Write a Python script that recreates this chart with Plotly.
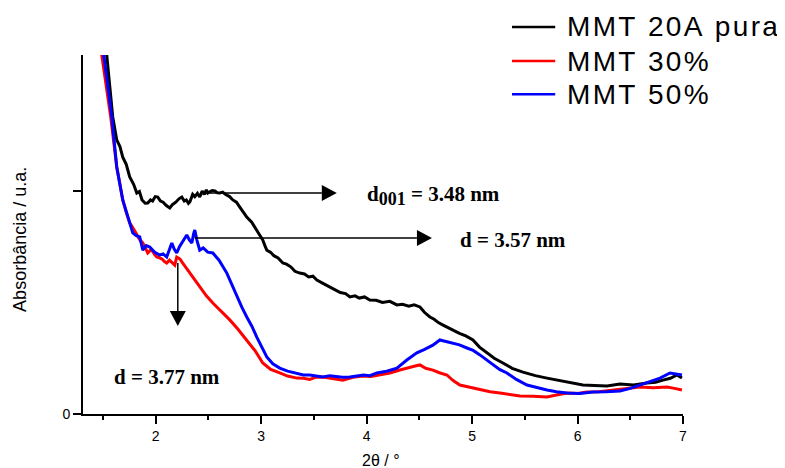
import plotly.graph_objects as go

# ---------------- data ----------------
series_names = ["MMT 20A pura", "MMT 30%", "MMT 50%"]
series_colors = ["#000000", "#ff0000", "#0000ff"]

x_pura = [1.50, 1.535, 1.592, 1.610, 1.630, 1.660, 1.687, 1.720, 1.753, 1.790, 1.820, 1.845, 1.870, 1.900,
          1.924, 1.950, 1.970, 1.995, 2.019, 2.045, 2.070, 2.100, 2.133, 2.160, 2.190, 2.220,
          2.247, 2.270, 2.290, 2.310, 2.323, 2.350, 2.370, 2.395, 2.417, 2.440, 2.460, 2.480, 2.493,
          2.512, 2.535, 2.560, 2.585, 2.607, 2.635, 2.660, 2.700, 2.731, 2.765, 2.797,
          2.830, 2.863, 2.910, 2.958, 2.990, 3.015, 3.035, 3.053, 3.090, 3.120, 3.160, 3.205, 3.240,
          3.280, 3.320, 3.366, 3.410, 3.450, 3.490, 3.528, 3.590, 3.651, 3.700, 3.750, 3.800, 3.841,
          3.890, 3.930, 3.980, 4.030, 4.090, 4.150, 4.220, 4.287, 4.340, 4.400, 4.450, 4.505, 4.550,
          4.600, 4.640, 4.680, 4.720, 4.761, 4.820, 4.880, 4.940, 5.008, 5.070, 5.140, 5.210, 5.292,
          5.380, 5.482, 5.600, 5.710, 5.820, 5.928, 6.051, 6.160, 6.279, 6.402, 6.530, 6.658, 6.740,
          6.810, 6.880, 6.943, 6.990]
y_pura = [1.75, 1.61, 1.332, 1.280, 1.229, 1.200, 1.152, 1.120, 1.063, 1.030, 0.991, 0.998, 0.960, 0.945,
          0.946, 0.960, 0.955, 0.975, 0.973, 0.955, 0.950, 0.935, 0.924, 0.940, 0.950, 0.965,
          0.973, 0.955, 0.960, 0.945, 0.951, 0.985, 0.975, 0.990, 0.973, 1.000, 0.985, 1.005, 0.991,
          0.996, 1.002, 1.000, 0.992, 0.991, 0.995, 0.985, 0.975, 0.960, 0.950, 0.928,
          0.905, 0.883, 0.860, 0.825, 0.800, 0.780, 0.755, 0.735, 0.725, 0.710, 0.700, 0.677, 0.672,
          0.660, 0.640, 0.632, 0.628, 0.615, 0.618, 0.601, 0.585, 0.570, 0.560, 0.545, 0.540, 0.525,
          0.530, 0.520, 0.525, 0.511, 0.510, 0.500, 0.505, 0.489, 0.492, 0.484, 0.490, 0.480, 0.455,
          0.435, 0.425, 0.410, 0.400, 0.390, 0.375, 0.362, 0.350, 0.332, 0.300, 0.274, 0.250, 0.229,
          0.205, 0.188, 0.172, 0.161, 0.150, 0.139, 0.130, 0.128, 0.126, 0.135, 0.130, 0.139, 0.142,
          0.152, 0.160, 0.175, 0.161]

x_30 = [1.47, 1.488, 1.573, 1.600, 1.630, 1.660, 1.687, 1.720, 1.753, 1.790, 1.820, 1.850, 1.877, 1.900,
        1.924, 1.950, 1.970, 1.990, 2.009, 2.035, 2.060, 2.080, 2.104, 2.130, 2.161, 2.180,
        2.199, 2.230, 2.256, 2.290, 2.323, 2.370, 2.417, 2.480, 2.541, 2.580, 2.620, 2.660, 2.702,
        2.780, 2.863, 2.940, 3.015, 3.090, 3.176, 3.250, 3.338, 3.400, 3.460, 3.520, 3.584,
        3.680, 3.774, 3.870, 3.964, 4.040, 4.125, 4.220, 4.315, 4.410, 4.460, 4.505, 4.560, 4.628, 4.690,
        4.761, 4.820, 4.884, 4.980, 5.074, 5.170, 5.264, 5.360, 5.454, 5.580, 5.710, 5.800, 5.899,
        6.000, 6.089, 6.200, 6.336, 6.460, 6.592, 6.720, 6.848, 6.920, 6.990]
y_30 = [1.72, 1.61, 1.332, 1.220, 1.108, 1.030, 0.960, 0.905, 0.857, 0.830, 0.803, 0.780, 0.767, 0.745,
        0.722, 0.735, 0.730, 0.715, 0.704, 0.700, 0.695, 0.685, 0.677, 0.690, 0.677, 0.668,
        0.704, 0.695, 0.677, 0.655, 0.632, 0.600, 0.570, 0.530, 0.498, 0.480, 0.460, 0.440, 0.422,
        0.380, 0.332, 0.285, 0.229, 0.200, 0.184, 0.170, 0.161, 0.160, 0.155, 0.165, 0.166,
        0.158, 0.152, 0.165, 0.170, 0.168, 0.175, 0.184, 0.197, 0.211, 0.215, 0.220, 0.205, 0.197, 0.185,
        0.175, 0.150, 0.130, 0.120, 0.108, 0.100, 0.094, 0.088, 0.081, 0.080, 0.076, 0.085, 0.094,
        0.092, 0.099, 0.100, 0.108, 0.112, 0.121, 0.118, 0.121, 0.115, 0.108]

x_50 = [1.49, 1.507, 1.583, 1.630, 1.687, 1.753, 1.782, 1.815, 1.848, 1.877, 1.910, 1.943, 1.990, 2.038,
        2.070, 2.104, 2.130, 2.152, 2.175, 2.199, 2.225, 2.250, 2.275, 2.294, 2.320, 2.342, 2.360,
        2.370, 2.390, 2.417, 2.450, 2.493, 2.541, 2.600, 2.674, 2.720, 2.769, 2.815, 2.863, 2.910,
        2.958, 3.005, 3.053, 3.110, 3.176, 3.250, 3.338, 3.400, 3.460, 3.520, 3.584, 3.650, 3.700,
        3.770, 3.841, 3.900, 3.970, 4.030, 4.097, 4.190, 4.287, 4.381, 4.476, 4.550, 4.628, 4.694,
        4.750, 4.818, 4.880, 4.951, 5.010, 5.074, 5.130, 5.197, 5.260, 5.330, 5.420, 5.520, 5.610,
        5.710, 5.800, 5.899, 6.020, 6.146, 6.270, 6.402, 6.500, 6.592, 6.690, 6.782, 6.877, 6.930, 6.990]
y_50 = [1.72, 1.61, 1.332, 1.108, 0.960, 0.857, 0.812, 0.800, 0.794, 0.735, 0.755, 0.749, 0.725, 0.713,
        0.718, 0.704, 0.735, 0.767, 0.740, 0.722, 0.750, 0.770, 0.790, 0.803, 0.780, 0.767, 0.810,
        0.825, 0.780, 0.735, 0.745, 0.726, 0.722, 0.690, 0.632, 0.580, 0.525, 0.480, 0.435, 0.395,
        0.345, 0.300, 0.256, 0.225, 0.206, 0.192, 0.184, 0.175, 0.175, 0.170, 0.166, 0.172, 0.168,
        0.165, 0.166, 0.170, 0.175, 0.172, 0.184, 0.192, 0.206, 0.242, 0.274, 0.290, 0.309, 0.332,
        0.325, 0.318, 0.310, 0.296, 0.285, 0.265, 0.245, 0.220, 0.200, 0.184, 0.155, 0.130, 0.118,
        0.108, 0.100, 0.094, 0.092, 0.099, 0.100, 0.103, 0.115, 0.130, 0.145, 0.161, 0.184, 0.180, 0.175]

x_tick_vals = [2, 3, 4, 5, 6, 7]
y_tick_vals = [0, 1]
y_tick_text = ["0", ""]

# annotations: (label, x, y) and arrows (x_tail, y_tail, x_tip, y_tip)
labels = [("d<sub><span style='font-size:18px'>001</span></sub> = 3.48 nm", 3.983, 0.982),
          ("d = 3.57 nm", 4.865, 0.780),
          ("d = 3.77 nm", 1.583, 0.166)]
arrows = [(2.512, 0.991, 3.717, 0.991),
          (2.370, 0.789, 4.619, 0.789),
          (2.209, 0.677, 2.209, 0.395)]

X_RANGE = [1.31, 7.0]
Y_RANGE = [0, 1.61]

# ---------------- figure ----------------
# page body has an 8px margin, so the figure is 8px smaller and the margins shifted accordingly
W, H = 777, 460
ML, MR, MT, MB = 75, 102, 47, 54
PW, PH = W - ML - MR, H - MT - MB
kx = PW / (X_RANGE[1] - X_RANGE[0])
ky = PH / (Y_RANGE[1] - Y_RANGE[0])

fig = go.Figure()
for xs, ys, name, col in [(x_pura, y_pura, series_names[0], series_colors[0]),
                          (x_30, y_30, series_names[1], series_colors[1]),
                          (x_50, y_50, series_names[2], series_colors[2])]:
    fig.add_trace(go.Scatter(x=xs, y=ys, mode="lines", name=name,
                             line=dict(color=col, width=3), showlegend=False))

shapes = []
# arrows: line + filled triangle head
HEAD_L, HEAD_W = 15, 8
for x0, y0, x1, y1 in arrows:
    dxp, dyp = (x1 - x0) * kx, (y1 - y0) * ky
    n = (dxp ** 2 + dyp ** 2) ** 0.5
    ux, uy = dxp / n, dyp / n
    bx, by = x1 - ux * HEAD_L / kx, y1 - uy * HEAD_L / ky
    px_, py_ = -uy, ux
    shapes.append(dict(type="line", xref="x", yref="y", x0=x0, y0=y0, x1=bx, y1=by,
                       line=dict(color="black", width=1.5)))
    c1 = (bx + px_ * HEAD_W / kx, by + py_ * HEAD_W / ky)
    c2 = (bx - px_ * HEAD_W / kx, by - py_ * HEAD_W / ky)
    path = f"M {x1},{y1} L {c1[0]},{c1[1]} L {c2[0]},{c2[1]} Z"
    shapes.append(dict(type="path", xref="x", yref="y", path=path,
                       fillcolor="black", line=dict(color="black", width=0)))

annotations = []
for txt, x, y in labels:
    annotations.append(dict(text=txt, x=x, y=y, xref="x", yref="y", xanchor="left", yanchor="middle",
                            showarrow=False,
                            font=dict(family="Liberation Serif, Times New Roman, serif", size=21,
                                      color="black", weight="bold")))

# custom legend (line sample + letter-spaced text)
legend_y = [1.078, 0.983, 0.891]
for name, col, ly in zip(series_names, series_colors, legend_y):
    shapes.append(dict(type="line", xref="paper", yref="paper", x0=0.715, x1=0.787, y0=ly, y1=ly,
                       line=dict(color=col, width=2.5)))
    annotations.append(dict(text="\u200a".join(name), x=0.803, y=ly, xref="paper", yref="paper",
                            xanchor="left", yanchor="middle", showarrow=False,
                            font=dict(family="Liberation Sans, Arial, sans-serif", size=28,
                                      color="black")))

# axis titles
annotations.append(dict(text="2\u03b8 / \u00b0", x=0.497, y=-0.13, xref="paper", yref="paper",
                        xanchor="center", yanchor="middle", showarrow=False,
                        font=dict(family="Liberation Sans, Arial, sans-serif", size=16, color="black")))
annotations.append(dict(text="Absorb\u00e2ncia / u.a.", x=-0.105, y=0.485, xref="paper", yref="paper",
                        xanchor="center", yanchor="middle", showarrow=False, textangle=-90,
                        font=dict(family="Liberation Sans, Arial, sans-serif", size=18, color="black")))

fig.update_layout(
    width=W, height=H,
    margin=dict(l=ML, r=MR, t=MT, b=MB),
    paper_bgcolor="white", plot_bgcolor="white",
    shapes=shapes, annotations=annotations,
    font=dict(family="Liberation Sans, Arial, sans-serif", size=14, color="black"),
    showlegend=False,
)
fig.update_xaxes(range=X_RANGE, showgrid=False, zeroline=False,
                 showline=True, linecolor="black", linewidth=2,
                 tickmode="array", tickvals=x_tick_vals, ticks="outside", ticklen=8,
                 tickwidth=1.5, tickcolor="black",
                 minor=dict(dtick=0.5, tick0=1.5, ticks="outside", ticklen=4, tickwidth=1.5,
                            tickcolor="black", showgrid=False),
                 tickfont=dict(size=14))
fig.update_yaxes(range=Y_RANGE, showgrid=False, zeroline=False,
                 showline=True, linecolor="black", linewidth=2,
                 tickmode="array", tickvals=y_tick_vals, ticktext=y_tick_text,
                 ticks="outside", ticklen=8, tickwidth=1.5, tickcolor="black",
                 tickfont=dict(size=14))

fig.write_html("out.html")
